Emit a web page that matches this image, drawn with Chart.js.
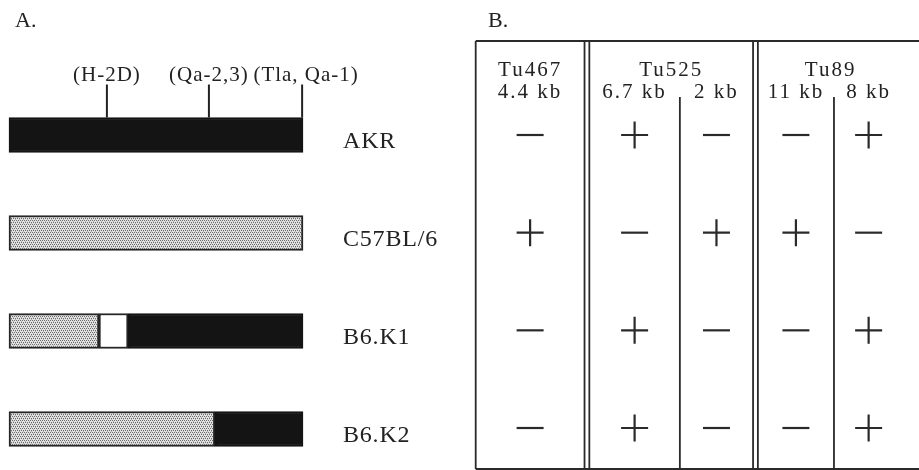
<!DOCTYPE html>
<html>
<head>
<meta charset="utf-8">
<script src="https://cdn.jsdelivr.net/npm/chart.js@4.4.1/dist/chart.umd.min.js"></script>
<style>
  html, body { margin: 0; padding: 0; background: #fff; }
  #wrap { position: relative; width: 919px; height: 470px; overflow: hidden; }
  .pane { position: absolute; top: 0; height: 470px; }
  #paneA { left: 0; width: 460px; }
  #paneB { left: 460px; width: 459px; }
</style>
</head>
<body>
<div id="wrap">
  <div class="pane" id="paneA"><canvas id="mapChart"></canvas></div>
  <div class="pane" id="paneB"><canvas id="blotChart"></canvas></div>
</div>
<script>
// rows shared by both panels
const strains = ['AKR', 'C57BL/6', 'B6.K1', 'B6.K2'];

// panel A: origin of each chromosome segment, in % of the mapped region
const akrSpans   = [[0, 100], null, [40.5, 100], [70, 100]];
const b6Spans    = [null, [0, 100], [0, 30.6], [0, 70]];
const undefSpans = [null, null, [30.6, 40.5], null];

// loci marked above the AKR bar (same % scale)
const loci = ['(H-2D)', '(Qa-2,3)', '(Tla, Qa-1)'];
const lociPos = [33.3, 68, 99.7];

// panel B: probes, fragments and the +/- result for each strain
const probes = ['Tu467', 'Tu525', 'Tu89'];
const fragments = ['4.4 kb', '6.7 kb', '2 kb', '11 kb', '8 kb'];
const fragmentProbe = [0, 1, 1, 2, 2];
const signs = [
  ['-', '+', '-', '-'],   // 4.4 kb
  ['+', '-', '+', '+'],   // 6.7 kb
  ['-', '+', '-', '-'],   // 2 kb
  ['-', '+', '-', '-'],   // 11 kb
  ['+', '-', '+', '+']    // 8 kb
];

// table layout (widths in x-scale units)
const colWidths = [113, 94, 76, 79, 72];
const groupGap = 5;

const ink = '#222';
const serif = '"Liberation Serif", "Times New Roman", serif';

// stipple fill for the C57BL/6 derived segments
function stipple() {
  const c = document.createElement('canvas');
  c.width = 4; c.height = 4;
  const g = c.getContext('2d');
  g.fillStyle = '#e2e2e2';
  g.fillRect(0, 0, 4, 4);
  g.fillStyle = '#6e6e6e';
  [[0, 0], [2, 0], [1, 2], [3, 2]].forEach(p => g.fillRect(p[0], p[1], 1, 1));
  g.fillStyle = '#b4b4b4';
  [[1, 1], [3, 3]].forEach(p => g.fillRect(p[0], p[1], 1, 1));
  return g.createPattern(c, 'repeat');
}

// column geometry from widths
const colStart = [];
const splits = [];
let cur = 0;
fragments.forEach((f, i) => {
  if (i > 0) {
    if (fragmentProbe[i] !== fragmentProbe[i - 1]) {
      splits.push({ at: cur, double: true });
      cur += groupGap;
    } else {
      splits.push({ at: cur, double: false });
    }
  }
  colStart.push(cur);
  cur += colWidths[i];
});
const tableWidth = cur;
const colCenter = colStart.map((s, i) => s + colWidths[i] / 2);

// ---------- panel A ----------
const mapLabels = {
  id: 'mapLabels',
  afterDatasetsDraw(chart) {
    const { ctx, chartArea, scales: { x, y } } = chart;
    const bar = chart.getDatasetMeta(0).data[0];
    const top = bar.y - bar.height / 2;
    ctx.save();
    ctx.strokeStyle = ink;
    ctx.lineWidth = 2;
    ctx.fillStyle = ink;
    ctx.font = '21px ' + serif;
    ctx.letterSpacing = '1px';
    ctx.textAlign = 'center';
    ctx.textBaseline = 'middle';
    loci.forEach((name, i) => {
      const px = x.getPixelForValue(lociPos[i]);
      ctx.beginPath();
      ctx.moveTo(px, top);
      ctx.lineTo(px, top - 33);
      ctx.stroke();
      ctx.fillText(name, px + (i === 2 ? 4 : 0), top - 42);
    });

    // strain names to the right of the bars
    ctx.font = '24px ' + serif;
    ctx.letterSpacing = '0.8px';
    ctx.textAlign = 'left';
    strains.forEach((s, i) => {
      ctx.fillText(s, chartArea.right + 40, y.getPixelForValue(i) + 7);
    });

    ctx.font = '22px ' + serif;
    ctx.letterSpacing = '0px';
    ctx.fillText('A.', 15, 21);
    ctx.restore();
  }
};

const barBase = {
  borderWidth: 2,
  borderSkipped: false,
  barThickness: 35,
  clip: false
};

new Chart(document.getElementById('mapChart'), {
  type: 'bar',
  data: {
    labels: strains,
    datasets: [
      Object.assign({ label: 'AKR', data: akrSpans, backgroundColor: '#141414', borderColor: '#141414' }, barBase),
      Object.assign({ label: 'C57BL/6', data: b6Spans, backgroundColor: stipple(), borderColor: '#262626' }, barBase),
      Object.assign({ label: 'undetermined', data: undefSpans, backgroundColor: '#ffffff', borderColor: '#262626' }, barBase)
    ]
  },
  options: {
    indexAxis: 'y',
    responsive: true,
    maintainAspectRatio: false,
    animation: false,
    grouped: false,
    layout: { padding: { left: 9, right: 157, top: 135, bottom: 41 } },
    scales: {
      x: { type: 'linear', min: 0, max: 100, display: false },
      y: { type: 'category', offset: false, display: false }
    },
    plugins: { legend: { display: false }, tooltip: { enabled: false } }
  },
  plugins: [mapLabels]
});

// ---------- panel B ----------
const blotTable = {
  id: 'blotTable',
  beforeDatasetsDraw(chart) {
    const { ctx, scales: { x } } = chart;
    const left = x.getPixelForValue(0);
    const right = chart.width + 2;
    const top = 41, bottom = 469;
    ctx.save();
    ctx.strokeStyle = '#2a2a2a';
    ctx.lineWidth = 1.8;
    ctx.beginPath();
    ctx.moveTo(left, top); ctx.lineTo(right, top);
    ctx.moveTo(left, bottom); ctx.lineTo(right, bottom);
    ctx.moveTo(left, top); ctx.lineTo(left, bottom);
    splits.forEach(s => {
      const px = x.getPixelForValue(s.at);
      if (s.double) {
        const px2 = x.getPixelForValue(s.at + groupGap);
        ctx.moveTo(px, top); ctx.lineTo(px, bottom);
        ctx.moveTo(px2, top); ctx.lineTo(px2, bottom);
      } else {
        ctx.moveTo(px, 97); ctx.lineTo(px, bottom);
      }
    });
    ctx.stroke();

    ctx.fillStyle = ink;
    ctx.textAlign = 'center';
    ctx.textBaseline = 'middle';
    ctx.font = '21px ' + serif;
    ctx.letterSpacing = '2px';
    probes.forEach((p, g) => {
      const cols = fragmentProbe.map((v, i) => v === g ? i : -1).filter(i => i >= 0);
      const a = colStart[cols[0]];
      const b = colStart[cols[cols.length - 1]] + colWidths[cols[cols.length - 1]];
      ctx.fillText(p, x.getPixelForValue((a + b) / 2), 70);
    });
    fragments.forEach((f, i) => {
      ctx.fillText(f, x.getPixelForValue(colCenter[i]), 92);
    });
    ctx.font = '22px ' + serif;
    ctx.letterSpacing = '0px';
    ctx.textAlign = 'left';
    ctx.fillText('B.', 28, 21);
    ctx.restore();
  }
};

const signPoints = [];
fragments.forEach((f, i) => {
  strains.forEach((s, r) => {
    signPoints.push({ x: colCenter[i], y: s, sign: signs[i][r] });
  });
});

new Chart(document.getElementById('blotChart'), {
  type: 'scatter',
  data: {
    datasets: [{
      label: 'hybridization',
      data: signPoints,
      pointStyle: ctx => ctx.raw && ctx.raw.sign === '+' ? 'cross' : 'line',
      pointRadius: 13.5,
      pointBorderWidth: 2.2,
      borderColor: '#2a2a2a',
      backgroundColor: '#2a2a2a',
      clip: false
    }]
  },
  options: {
    responsive: true,
    maintainAspectRatio: false,
    animation: false,
    layout: { padding: { left: 15, right: 0, top: 135, bottom: 42 } },
    scales: {
      x: { type: 'linear', min: 0, max: tableWidth, display: false },
      y: { type: 'category', labels: strains, offset: false, display: false }
    },
    plugins: { legend: { display: false }, tooltip: { enabled: false } }
  },
  plugins: [blotTable]
});
</script>
</body>
</html>
